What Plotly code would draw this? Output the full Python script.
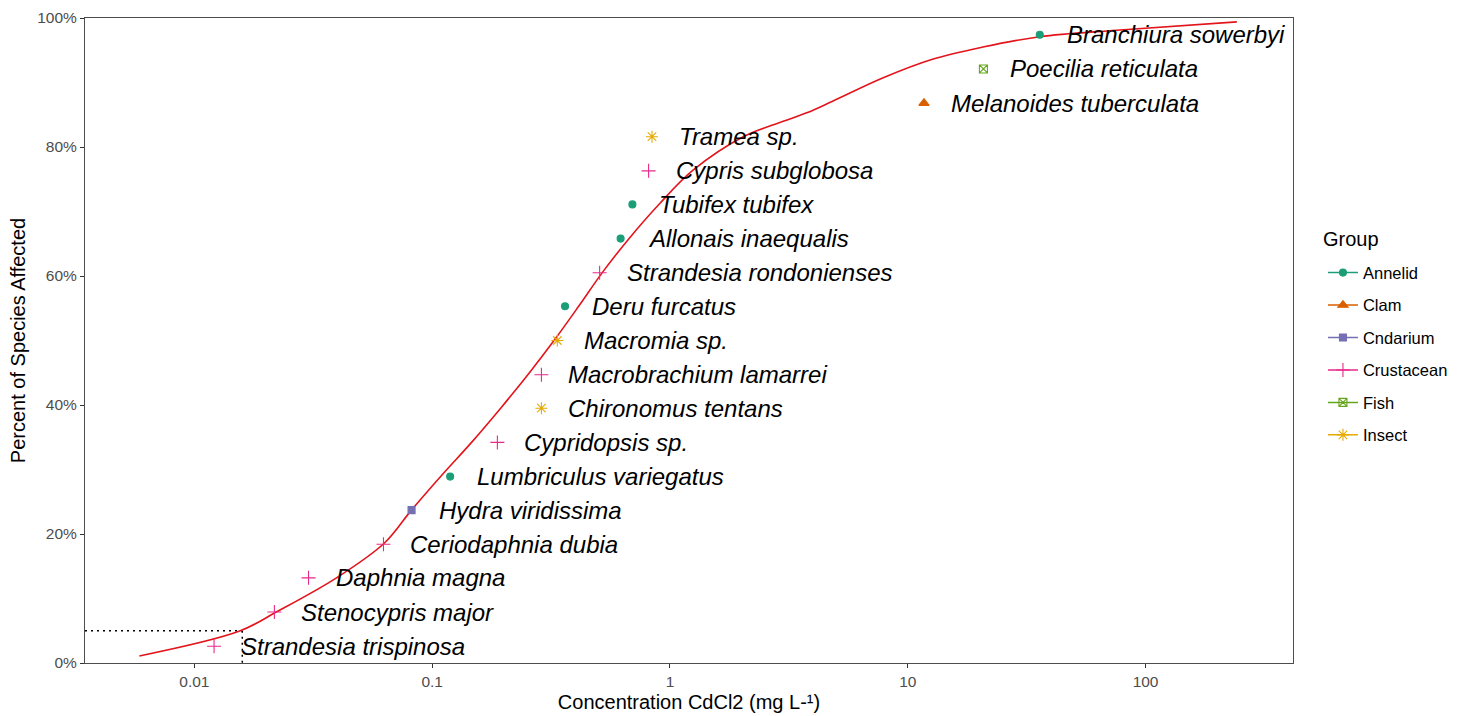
import numpy as np
import plotly.graph_objects as go

# Species sensitivity data: CdCl2 toxicity value (mg/L) and plotting position (%)
species = [
    "Strandesia trispinosa", "Stenocypris major", "Daphnia magna", "Ceriodaphnia dubia",
    "Hydra viridissima", "Lumbriculus variegatus", "Cypridopsis sp.", "Chironomus tentans",
    "Macrobrachium lamarrei", "Macromia sp.", "Deru furcatus", "Strandesia rondonienses",
    "Allonais inaequalis", "Tubifex tubifex", "Cypris subglobosa", "Tramea sp.",
    "Melanoides tuberculata", "Poecilia reticulata", "Branchiura sowerbyi",
]
groups = [
    "Crustacean", "Crustacean", "Crustacean", "Crustacean",
    "Cndarium", "Annelid", "Crustacean", "Insect",
    "Crustacean", "Insect", "Annelid", "Crustacean",
    "Annelid", "Annelid", "Crustacean", "Insect",
    "Clam", "Fish", "Annelid",
]
concentration = [
    0.0121, 0.0217, 0.0302, 0.0624,
    0.0819, 0.119, 0.188, 0.288,
    0.288, 0.336, 0.362, 0.506,
    0.62, 0.695, 0.813, 0.84,
    11.7, 20.8, 35.9,
]
percent_affected = [
    2.6, 7.9, 13.2, 18.4,
    23.7, 28.9, 34.2, 39.5,
    44.7, 50.0, 55.3, 60.5,
    65.8, 71.1, 76.3, 81.6,
    86.8, 92.1, 97.4,
]

# Fitted species sensitivity distribution curve
curve_conc = [0.00587, 0.0155, 0.0221, 0.0396, 0.0630, 0.0818, 0.109, 0.148, 0.196,
              0.254, 0.327, 0.413, 0.521, 0.676, 0.904, 1.25, 2.06, 2.70, 3.76,
              4.83, 7.84, 12.7, 20.7, 35.9, 75.6, 242]
curve_pct = [1.1, 4.96, 7.9, 13.2, 18.6, 23.7, 29.0, 34.4, 39.7,
             44.8, 50.1, 55.3, 60.6, 65.9, 71.2, 76.4, 81.7, 83.4, 85.3,
             87.1, 90.7, 93.6, 95.5, 97.1, 98.1, 99.4]

# Hazardous concentration for 5% of species
hc5_conc = 0.0159
hc5_pct = 5.0

group_names = ["Annelid", "Clam", "Cndarium", "Crustacean", "Fish", "Insect"]
group_colors = ["#1B9E77", "#D95F02", "#7570B3", "#E7298A", "#66A61E", "#E6AB02"]
group_symbols = ["circle", "triangle-up", "square", "cross-thin-open", "square-x-open", "asterisk-open"]
group_sizes = [7, 9, 7, 10, 8, 10]

x_log_range = [-2.46, 2.62]
x_ticks = [0.01, 0.1, 1, 10, 100]
x_tick_text = ["0.01", "0.1", "1", "10", "100"]
y_ticks = [0, 20, 40, 60, 80, 100]

FONT = "Liberation Sans, Arial, sans-serif"

fig = go.Figure()

# HC5 guide lines
x_left = 10 ** x_log_range[0]
fig.add_trace(go.Scatter(
    x=[x_left, hc5_conc], y=[hc5_pct, hc5_pct], mode="lines",
    line=dict(color="black", width=1.5, dash="2px,4px"),
    showlegend=False, hoverinfo="skip",
))
fig.add_trace(go.Scatter(
    x=[hc5_conc, hc5_conc], y=[hc5_pct, 0], mode="lines",
    line=dict(color="black", width=1.5, dash="2px,4px"),
    showlegend=False, hoverinfo="skip",
))

# SSD curve
fig.add_trace(go.Scatter(
    x=curve_conc, y=curve_pct, mode="lines",
    line=dict(color="#E3141B", width=1.6, shape="spline", smoothing=1.0),
    showlegend=False, hoverinfo="skip",
))

# Species points by group
for name, color, symbol, size in zip(group_names, group_colors, group_symbols, group_sizes):
    idx = [i for i, g in enumerate(groups) if g == name]
    fig.add_trace(go.Scatter(
        x=[concentration[i] for i in idx],
        y=[percent_affected[i] for i in idx],
        mode="markers",
        marker=dict(symbol=symbol, size=size, color=color,
                    line=dict(color=color, width=1.1)),
        text=[species[i] for i in idx],
        showlegend=False,
    ))
    # legend key (line + point)
    fig.add_trace(go.Scatter(
        x=[None], y=[None], mode="lines+markers", name=name,
        legendgroup=name,
        line=dict(color=color, width=1.5),
        marker=dict(symbol=symbol, size=size, color=color,
                    line=dict(color=color, width=1.1)),
    ))

# Italic species labels to the right of each point
for sp, c, p in zip(species, concentration, percent_affected):
    fig.add_annotation(
        x=np.log10(c), y=p, text=f"<i>{sp}</i>", showarrow=False,
        xanchor="left", yanchor="middle", xshift=25,
        font=dict(family=FONT, size=24, color="black"),
    )

# Legend heading
fig.add_annotation(
    xref="paper", yref="paper", x=1.0235, y=0.657,
    xanchor="left", yanchor="middle", showarrow=False,
    text="Group", font=dict(family=FONT, size=20, color="black"),
)

fig.update_layout(
    width=1467, height=716,
    margin=dict(l=85, r=174, t=18, b=53),
    paper_bgcolor="white", plot_bgcolor="white",
    font=dict(family=FONT, color="black"),
    showlegend=True,
    legend=dict(
        font=dict(family=FONT, size=16.5, color="black"),
        x=1.0248, xanchor="left", y=0.632, yanchor="top",
        tracegroupgap=8, bgcolor="rgba(0,0,0,0)",
    ),
)

fig.update_xaxes(
    type="log", range=x_log_range,
    tickvals=x_ticks, ticktext=x_tick_text,
    ticks="outside", ticklen=4, tickwidth=1, tickcolor="#333333",
    tickfont=dict(family=FONT, size=15.5, color="#4D4D4D"),
    showgrid=False, zeroline=False,
    showline=True, linecolor="#4D4D4D", linewidth=1, mirror=True,
    title=dict(text="Concentration CdCl2 (mg L-¹)", standoff=6,
               font=dict(family=FONT, size=20, color="black")),
    automargin=False,
)
fig.update_yaxes(
    range=[0, 100],
    tickmode="array", tickvals=y_ticks, ticktext=[f"{v}%" for v in y_ticks],
    ticks="outside", ticklen=4, tickwidth=1, tickcolor="#333333",
    tickfont=dict(family=FONT, size=15.5, color="#4D4D4D"),
    showgrid=False, zeroline=False,
    showline=True, linecolor="#4D4D4D", linewidth=1, mirror=True,
    title=dict(text="Percent of Species Affected", standoff=6,
               font=dict(family=FONT, size=20, color="black")),
    automargin=False,
)

fig.write_html("out.html")
